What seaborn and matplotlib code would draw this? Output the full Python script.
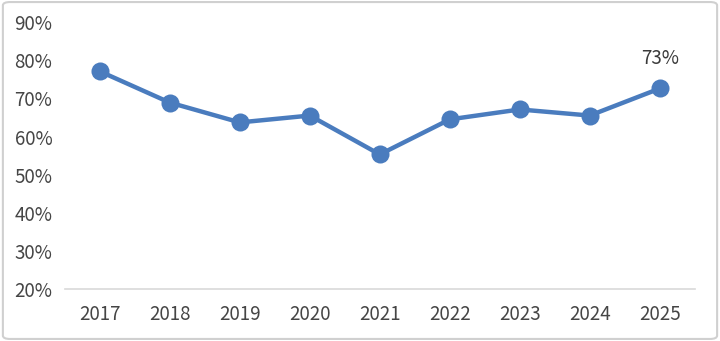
import matplotlib
matplotlib.use("Agg")
import matplotlib.pyplot as plt
import seaborn as sns
import pandas as pd
from matplotlib.patches import FancyBboxPatch

years = ["2017", "2018", "2019", "2020", "2021", "2022", "2023", "2024", "2025"]
values = [77.1, 68.9, 63.7, 65.5, 55.3, 64.5, 67.1, 65.5, 72.6]
y_ticks = [20, 30, 40, 50, 60, 70, 80, 90]
last_label = "73%"

sns.set_theme(style="white")
plt.rcParams["font.family"] = ["Noto Sans CJK SC", "DejaVu Sans"]
plt.rcParams["font.weight"] = 500

df = pd.DataFrame({"year": years, "value": values})

fig = plt.figure(figsize=(7.2, 3.41), dpi=100)
ax = fig.add_axes([0.09, 0.1525, 0.875, 0.7825])

color = "#4a7cbe"
sns.lineplot(data=df, x="year", y="value", ax=ax, color=color, linewidth=3.2,
             marker="o", markersize=13, markeredgewidth=0, sort=False)

ax.set_ylim(20, 90)
ax.set_xlim(-0.5, len(years) - 0.5)
ax.set_yticks(y_ticks)
ax.set_yticklabels([f"{t}%" for t in y_ticks])
ax.set_xlabel("")
ax.set_ylabel("")
ax.tick_params(axis="both", length=0, labelsize=13.5, labelcolor="#454545")
ax.tick_params(axis="y", pad=9)
ax.tick_params(axis="x", pad=11)
for s in ["top", "right", "left"]:
    ax.spines[s].set_visible(False)
ax.spines["bottom"].set_color("#d9d9d9")
ax.spines["bottom"].set_linewidth(1.2)

ax.annotate(last_label, (len(years) - 1, values[-1]), xytext=(0, 14),
            textcoords="offset points", ha="center", va="bottom",
            fontsize=13.5, color="#3a3a3a")

border = FancyBboxPatch((0.004, 0.006), 0.992, 0.988,
                        boxstyle="round,pad=0,rounding_size=0.01",
                        transform=fig.transFigure, fill=False,
                        edgecolor="#d0d0d0", linewidth=1.5)
fig.patches.append(border)

fig.savefig("out.png", dpi=100)
